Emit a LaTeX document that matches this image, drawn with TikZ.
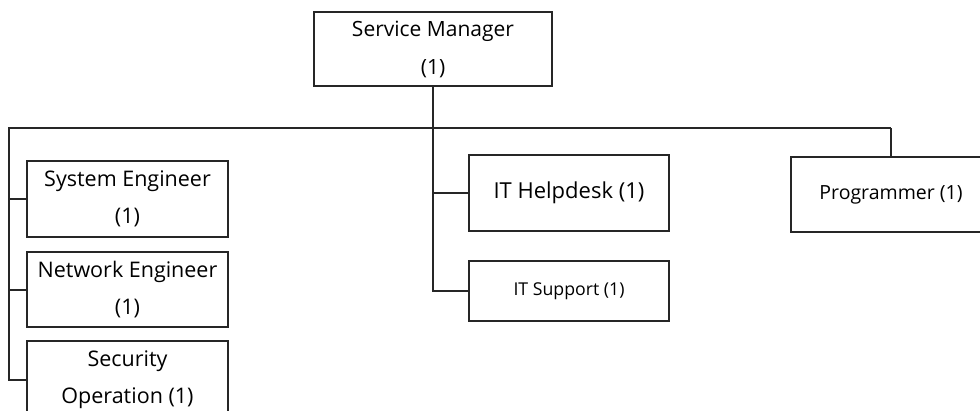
\documentclass[tikz,border=0pt]{standalone}
\usepackage{fontspec}
\setmainfont{Open Sans}
\begin{document}
\begin{tikzpicture}[x=1pt,y=-1pt,
  box/.style={draw=black!85,line width=2pt,rectangle,inner sep=0pt,align=center,
    font=\fontsize{21.5}{37}\selectfont,text=black},
  wire/.style={draw=black!85,line width=2pt}]
\useasboundingbox (0,0) rectangle (980,410);
\node[box,minimum width=238pt,minimum height=74pt,font=\fontsize{21}{38}\selectfont] (sm) at (433,49) {Service Manager\\(1)};
\node[box,minimum width=201pt,minimum height=76pt] (se) at (127.5,199) {System Engineer\\(1)};
\node[box,minimum width=201pt,minimum height=75pt] (ne) at (127.5,289.5) {Network Engineer\\(1)};
\node[box,minimum width=201pt,minimum height=78pt] (so) at (127.5,380) {Security\\Operation (1)};
\node[box,minimum width=200pt,minimum height=76pt,font=\fontsize{22}{37}\selectfont] (hd) at (569,193) {IT Helpdesk (1)};
\node[box,minimum width=200pt,minimum height=60pt,font=\fontsize{17.7}{37}\selectfont] (sup) at (569,291) {IT Support (1)};
\node[box,minimum width=200pt,minimum height=75pt,font=\fontsize{19.5}{37}\selectfont] (pr) at (891,194.5) {Programmer (1)};
\coordinate (busL) at (9,128);
\coordinate (busR) at (891,128);
\draw[wire] (sm.south) |- (sup.west);
\draw[wire] (sm.south |- hd.west) -- (hd.west);
\draw[wire] (busR) -- (pr.north);
\draw[wire] (pr.north |- busR) -- (busL) |- (so.west);
\draw[wire] (busL |- se.west) -- (se.west);
\draw[wire] (busL |- ne.west) -- (ne.west);
\end{tikzpicture}
\end{document}
